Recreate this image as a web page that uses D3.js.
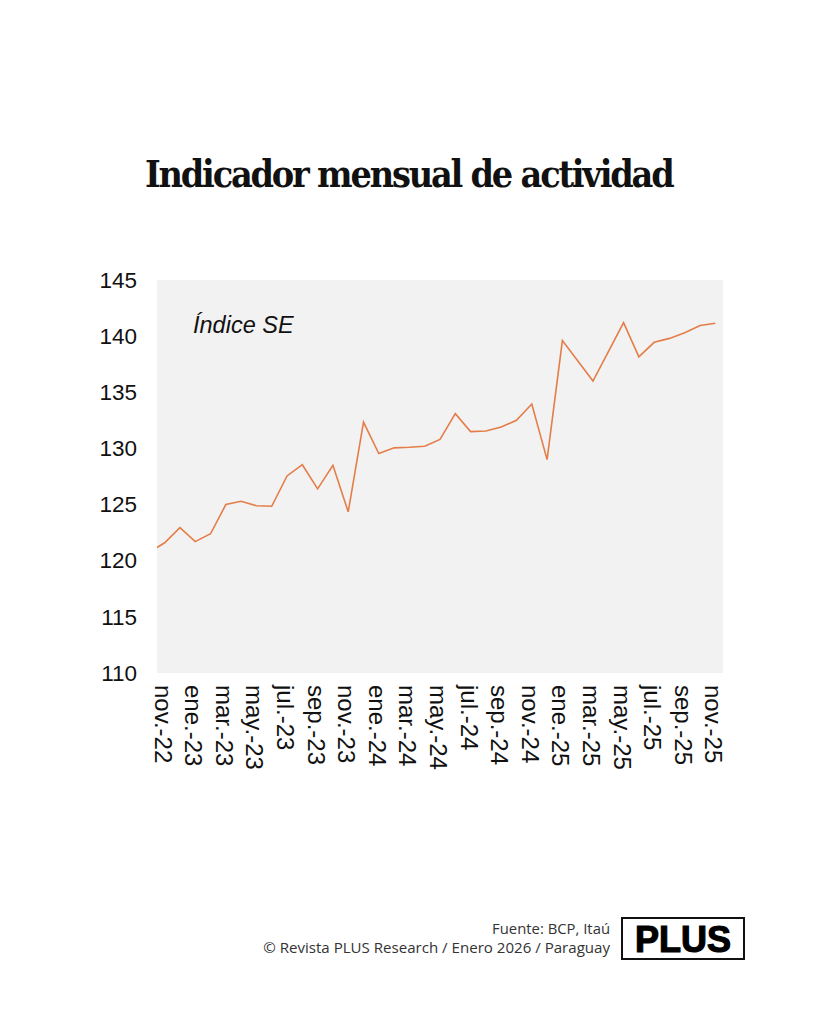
<!DOCTYPE html>
<html>
<head>
<meta charset="utf-8">
<script src="https://cdn.jsdelivr.net/npm/d3@7"></script>
<style>
  html, body { margin: 0; padding: 0; background: #ffffff; }
  svg { display: block; }
</style>
</head>
<body>
<svg id="chart" width="819" height="1024"></svg>
<script>
// ---- data ----
const months = ["oct.-22","nov.-22","dic.-22","ene.-23","feb.-23","mar.-23","abr.-23","may.-23","jun.-23","jul.-23","ago.-23","sep.-23","oct.-23","nov.-23","dic.-23","ene.-24","feb.-24","mar.-24","abr.-24","may.-24","jun.-24","jul.-24","ago.-24","sep.-24","oct.-24","nov.-24","dic.-24","ene.-25","feb.-25","mar.-25","abr.-25","may.-25","jun.-25","jul.-25","ago.-25","sep.-25","oct.-25","nov.-25"];
const values = [120.75,121.6,122.95,121.7,122.4,125.0,125.3,124.9,124.85,127.55,128.55,126.4,128.5,124.35,132.35,129.55,130.05,130.1,130.2,130.8,133.1,131.5,131.55,131.9,132.5,133.95,129.0,139.6,137.8,136.0,138.6,141.2,138.15,139.45,139.8,140.3,140.95,141.15];
const tickLabels = ["nov.-22","ene.-23","mar.-23","may.-23","jul.-23","sep.-23","nov.-23","ene.-24","mar.-24","may.-24","jul.-24","sep.-24","nov.-24","ene.-25","mar.-25","may.-25","jul.-25","sep.-25","nov.-25"];
const yTicks = [110,115,120,125,130,135,140,145];

const title = "Indicador mensual de actividad";
const seriesLabel = "Índice SE";
const source = "Fuente: BCP, Itaú";
const credit = "© Revista PLUS Research / Enero 2026 / Paraguay";

// ---- layout ----
const svg = d3.select("#chart");
const plot = {left: 157, right: 723, top: 280, bottom: 673};
const firstShown = months.indexOf("nov.-22");
const lastShown = months.indexOf("nov.-25");

const x = d3.scaleLinear()
  .domain([firstShown - 0.5, lastShown + 0.5])
  .range([plot.left, plot.right]);
const y = d3.scaleLinear().domain([110, 145]).range([plot.bottom, plot.top]);

function fitWidth(sel, baseSize, target) {
  const w = sel.node().getComputedTextLength();
  sel.attr("font-size", baseSize * target / w);
}

// title
const t = svg.append("text")
  .attr("x", 145).attr("y", 187)
  .attr("font-family", "'DejaVu Serif Condensed', 'DejaVu Serif', serif")
  .attr("font-stretch", "condensed")
  .attr("font-weight", "bold")
  .attr("font-size", 43.5)
  .attr("fill", "#111")
  .text(title);
{
  const target = 537;
  const w = t.node().getComputedTextLength();
  t.attr("letter-spacing", Math.max(-2.2, (target - w) / (title.length - 1)));
  const w2 = t.node().getComputedTextLength();
  if (Math.abs(w2 - target) > 3) t.attr("font-size", 43.5 * target / w2);
}

// plot background
svg.append("rect")
  .attr("x", plot.left).attr("y", plot.top)
  .attr("width", plot.right - plot.left).attr("height", plot.bottom - plot.top)
  .attr("fill", "#f2f2f2");

svg.append("clipPath").attr("id", "clip")
  .append("rect")
  .attr("x", plot.left).attr("y", plot.top)
  .attr("width", plot.right - plot.left).attr("height", plot.bottom - plot.top);

// y axis
const yAxis = svg.append("g")
  .attr("transform", `translate(${plot.left - 20},0)`)
  .call(d3.axisLeft(y).tickValues(yTicks).tickSize(0).tickPadding(0));
yAxis.select(".domain").remove();
yAxis.selectAll("text")
  .attr("font-family", "'Liberation Sans', Arial, sans-serif")
  .attr("font-size", 22.5)
  .attr("fill", "#111");

// x axis
const xTickIdx = tickLabels.map(l => months.indexOf(l));
const xAxis = svg.append("g")
  .attr("transform", `translate(0,${plot.bottom})`)
  .call(d3.axisBottom(x).tickValues(xTickIdx).tickFormat(i => months[i]).tickSize(0).tickPadding(0));
xAxis.select(".domain").remove();
xAxis.selectAll("text")
  .attr("font-family", "'Liberation Sans', Arial, sans-serif")
  .attr("font-size", 24)
  .attr("fill", "#111")
  .attr("text-anchor", "start")
  .attr("dy", null)
  .attr("y", 0)
  .attr("dominant-baseline", "central")
  .attr("transform", "translate(-2,12) rotate(90)");

// line
const line = d3.line().x((d, i) => x(i)).y(d => y(d));
svg.append("path")
  .datum(values)
  .attr("clip-path", "url(#clip)")
  .attr("d", line)
  .attr("fill", "none")
  .attr("stroke", "#e47d48")
  .attr("stroke-width", 1.6)
  .attr("stroke-linejoin", "miter");

// series label
svg.append("text")
  .attr("x", 193).attr("y", 333)
  .attr("font-family", "'Liberation Sans', Arial, sans-serif")
  .attr("font-style", "italic")
  .attr("font-size", 23.5)
  .attr("fill", "#111")
  .text(seriesLabel);

// footer
const s = svg.append("text")
  .attr("x", 610).attr("y", 934)
  .attr("text-anchor", "end")
  .attr("font-family", "'Open Sans', 'Noto Sans', sans-serif")
  .attr("font-size", 13)
  .attr("fill", "#333")
  .text(source);
fitWidth(s, 13, 118);
const c = svg.append("text")
  .attr("x", 610).attr("y", 953)
  .attr("text-anchor", "end")
  .attr("font-family", "'Open Sans', 'Noto Sans', sans-serif")
  .attr("font-size", 13)
  .attr("fill", "#333")
  .text(credit);
fitWidth(c, 13, 347);

// logo
svg.append("rect")
  .attr("x", 622).attr("y", 918)
  .attr("width", 122).attr("height", 41)
  .attr("fill", "#fff")
  .attr("stroke", "#111")
  .attr("stroke-width", 2);
svg.append("text")
  .attr("x", 683).attr("y", 951.5)
  .attr("text-anchor", "middle")
  .attr("font-family", "'Liberation Sans', Arial, sans-serif")
  .attr("font-weight", "bold")
  .attr("font-size", 36)
  .attr("fill", "#000")
  .attr("stroke", "#000")
  .attr("stroke-width", 1.2)
  .text("PLUS");
</script>
</body>
</html>
